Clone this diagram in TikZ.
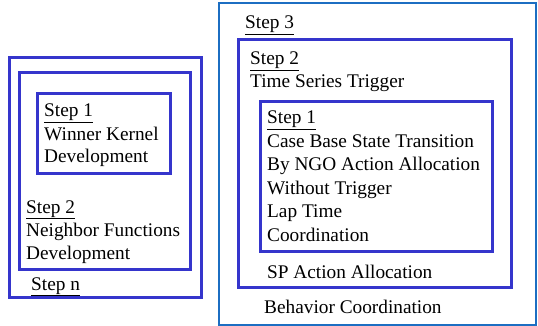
\documentclass[tikz,border=0pt]{standalone}
\usepackage{fontspec}
\setmainfont{Liberation Serif}
\definecolor{boxblue}{HTML}{3535CC}
\definecolor{outerblue}{HTML}{1C6EC2}
\begin{document}
\begin{tikzpicture}[x=1pt,y=-1pt,
  thickbox/.style={draw=boxblue,line width=3pt},
  thinbox/.style={draw=outerblue,line width=2pt},
  txt/.style={anchor=base west,inner sep=0pt,font=\fontsize{19.3}{23.5}\selectfont}]
\useasboundingbox (0,0) rectangle (538,326);
% left group
\draw[thickbox] (9.5,57.5) rectangle (201.5,297.5);
\draw[thickbox] (19.5,72.5) rectangle (190.5,269.5);
\draw[thickbox] (37.5,93.5) rectangle (170.5,173.5);
\node[txt] (l1a) at (44,117) {\underline{Step 1}};
\node[txt] (l1b) at (44,140) {Winner Kernel};
\node[txt] (l1c) at (44,163) {Development};
\node[txt] (l2a) at (26,213) {\underline{Step 2}};
\node[txt] (l2b) at (26,236) {Neighbor Functions};
\node[txt] (l2c) at (26,259) {Development};
\node[txt] (lna) at (31,290) {\underline{Step n}};
% right group
\draw[thinbox] (219,3) rectangle (536,324.5);
\draw[thickbox] (238.5,39.5) rectangle (511.5,287.5);
\draw[thickbox] (260.5,101.5) rectangle (492.5,251.5);
\node[txt] (r3a) at (245,29) {\underline{Step 3}};
\node[txt] (r2a) at (250,65) {\underline{Step 2}};
\node[txt] (r2b) at (250,88) {Time Series Trigger};
\node[txt] (r1a) at (267,124) {\underline{Step 1}};
\node[txt] (r1b) at (267,147) {Case Base State Transition};
\node[txt] (r1c) at (267,170.5) {By NGO Action Allocation};
\node[txt] (r1d) at (267,194) {Without Trigger};
\node[txt] (r1e) at (267,217.5) {Lap Time};
\node[txt] (r1f) at (267,241) {Coordination};
\node[txt] (r2c) at (267,278) {SP Action Allocation};
\node[txt] (r3b) at (264,313) {Behavior Coordination};
\end{tikzpicture}
\end{document}
